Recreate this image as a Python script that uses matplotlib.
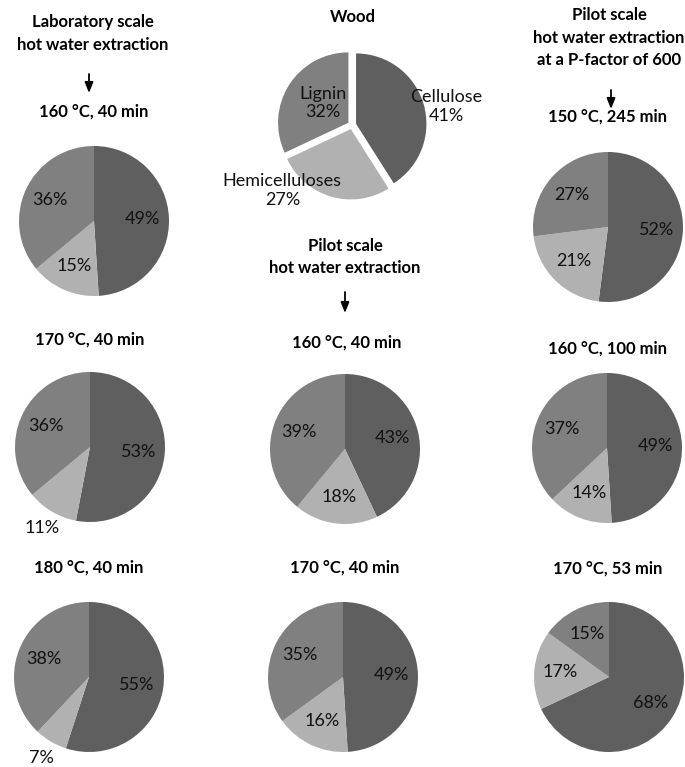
import matplotlib.pyplot as plt
import numpy as np
from matplotlib.patches import FancyArrowPatch

plt.rcParams['font.family'] = ['Lato', 'DejaVu Sans']

# composition order: cellulose, hemicelluloses, lignin (%)
components = ['Cellulose', 'Hemicelluloses', 'Lignin']
colors = ['#5f5f5f', '#b1b1b1', '#808080']

wood = [41, 27, 32]

lab_conditions = ['160 °C, 40 min', '170 °C, 40 min', '180 °C, 40 min']
lab_values = [[49, 15, 36], [53, 11, 36], [55, 7, 38]]

pilot_conditions = ['160 °C, 40 min', '170 °C, 40 min']
pilot_values = [[43, 18, 39], [49, 16, 35]]

pfactor_conditions = ['150 °C, 245 min', '160 °C, 100 min', '170 °C, 53 min']
pfactor_values = [[52, 21, 27], [49, 14, 37], [68, 17, 15]]

W, H = 685, 767
fig = plt.figure(figsize=(W / 100, H / 100), dpi=100)

title_kw = dict(fontsize=12, fontweight='bold', ha='center', va='center', color='black')
label_kw = dict(fontsize=13, ha='center', va='center', color='#111111')


def fx(x):
    return x / W


def fy(y):
    return 1 - y / H


def text_at(x, y, s, **kw):
    fig.text(fx(x), fy(y), s, **kw)


def arrow_at(x, y0, y1):
    fig.add_artist(FancyArrowPatch(
        (fx(x), fy(y0)), (fx(x), fy(y1)), transform=fig.transFigure,
        arrowstyle='-|>,head_length=0.45,head_width=0.18', mutation_scale=14,
        shrinkA=0, shrinkB=0, lw=1.3, color='black'))


def pie_at(cx, cy, values, r=75, lim=1.0, explode=None):
    ax = fig.add_axes([fx(cx - r), fy(cy + r), 2 * r / W, 2 * r / H])
    wedges, _ = ax.pie(values, colors=colors, startangle=90, counterclock=False,
                       explode=explode, wedgeprops=dict(linewidth=0))
    ax.set_xlim(-lim, lim)
    ax.set_ylim(-lim, lim)
    return ax, wedges


def pct_labels(ax, wedges, values):
    for w, v in zip(wedges, values):
        mid = np.deg2rad((w.theta1 + w.theta2) / 2)
        d = 1.25 if v < 12 else 0.65
        ax.text(d * np.cos(mid), d * np.sin(mid), f'{v}%', **label_kw)


# wood (exploded, with component names)
ax, wedges = pie_at(352, 125, wood, r=76, lim=1.08, explode=[0.06] * 3)
wood_label_pos = [(1.34, 0.26), (-0.99, -0.93), (-0.41, 0.31)]
for name, v, (lx, ly) in zip(components, wood, wood_label_pos):
    ax.text(lx, ly, f'{name}\n{v}%', linespacing=1.2, **label_kw)
text_at(353, 17, 'Wood', **title_kw)

# laboratory scale column
text_at(93, 22, 'Laboratory scale', **title_kw)
text_at(93, 45, 'hot water extraction', **title_kw)
arrow_at(89, 74, 93)
for (cx, cy, ty), cond, vals in zip([(94, 221, 112), (90, 447, 340), (89, 677, 568)],
                                    lab_conditions, lab_values):
    text_at(cx, ty, cond, **title_kw)
    ax, wedges = pie_at(cx, cy, vals)
    pct_labels(ax, wedges, vals)

# pilot scale column
text_at(345, 246, 'Pilot scale', **title_kw)
text_at(345, 268, 'hot water extraction', **title_kw)
arrow_at(345, 292, 313)
for (cx, cy, ty), cond, vals in zip([(345, 449, 343), (343, 677, 568)],
                                    pilot_conditions, pilot_values):
    text_at(cx + 2, ty, cond, **title_kw)
    ax, wedges = pie_at(cx, cy, vals)
    pct_labels(ax, wedges, vals)

# pilot scale at P-factor 600 column
text_at(609, 15, 'Pilot scale', **title_kw)
text_at(609, 38, 'hot water extraction', **title_kw)
text_at(609, 60, 'at a P-factor of 600', **title_kw)
arrow_at(611, 90, 109)
for (cx, cy, ty), cond, vals in zip([(608, 227, 117), (607, 448, 349), (609, 677, 569)],
                                    pfactor_conditions, pfactor_values):
    text_at(608, ty, cond, **title_kw)
    ax, wedges = pie_at(cx, cy, vals)
    pct_labels(ax, wedges, vals)

fig.savefig('out.png', dpi=100, facecolor='white')
